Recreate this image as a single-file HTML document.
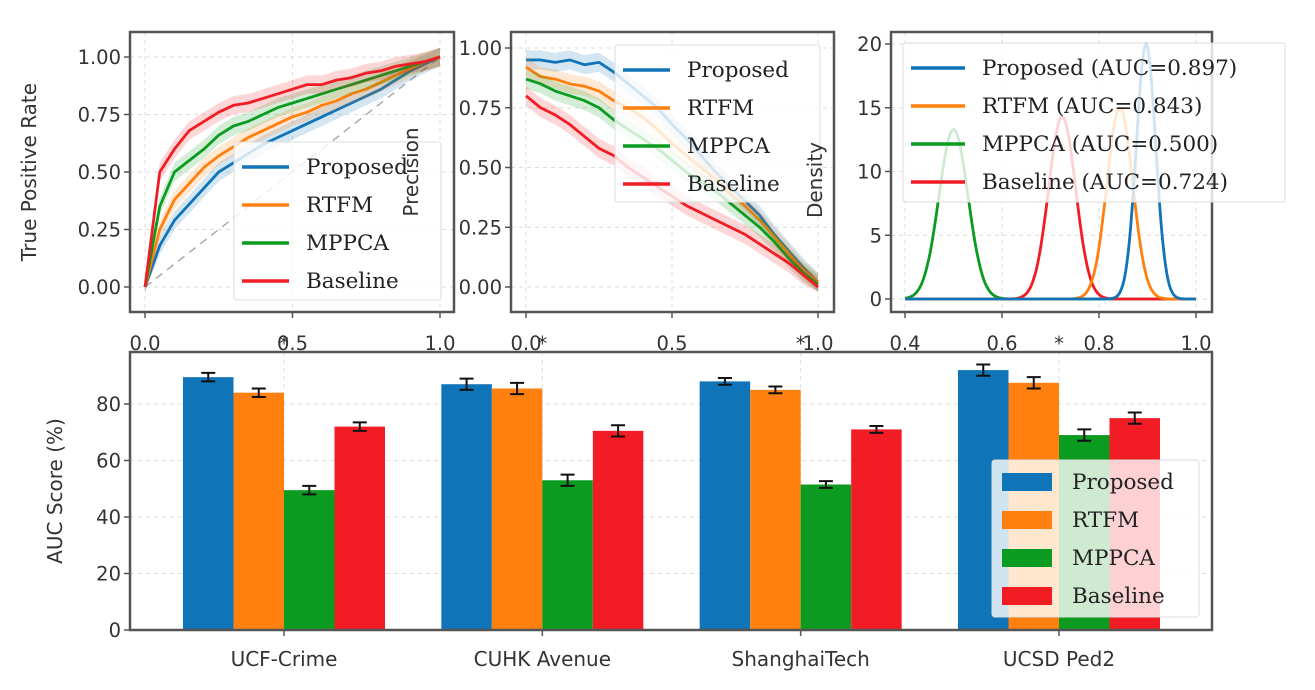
<!DOCTYPE html>
<html><head><meta charset="utf-8"><style>
html,body{margin:0;padding:0;background:#fff;width:1315px;height:690px;overflow:hidden}
svg{display:block}
.tick{font-family:"DejaVu Sans","Liberation Sans",sans-serif;font-size:19.5px;fill:#333}
.lab{font-family:"DejaVu Sans","Liberation Sans",sans-serif;font-size:20px;fill:#333}
.leg{font-family:"DejaVu Serif","Liberation Serif",serif;font-size:21.5px;fill:#222}
</style></head><body>
<svg id="fig" width="1315" height="690" xmlns="http://www.w3.org/2000/svg"></svg>
<script>
const seriesNames = ["Proposed","RTFM","MPPCA","Baseline"];
const colors = ["#0f74b8","#ff800e","#0a9b20","#f21d24"];
// ROC
const rocX = [0,0.05,0.1,0.15,0.2,0.25,0.3,0.35,0.4,0.45,0.5,0.55,0.6,0.65,0.7,0.75,0.8,0.85,0.9,0.95,1.0];
const rocProposed = [0,0.18,0.29,0.36,0.43,0.50,0.54,0.58,0.62,0.65,0.68,0.71,0.74,0.77,0.80,0.83,0.86,0.90,0.94,0.97,1.0];
const rocRTFM = [0,0.25,0.38,0.45,0.52,0.57,0.61,0.65,0.68,0.71,0.74,0.76,0.79,0.81,0.84,0.86,0.89,0.92,0.95,0.98,1.0];
const rocMPPCA = [0,0.35,0.50,0.55,0.60,0.66,0.70,0.72,0.75,0.78,0.80,0.82,0.84,0.86,0.88,0.90,0.92,0.94,0.96,0.98,1.0];
const rocBaseline = [0,0.50,0.60,0.68,0.72,0.76,0.79,0.80,0.82,0.84,0.86,0.88,0.88,0.90,0.91,0.93,0.94,0.96,0.97,0.98,1.0];
// PR
const prX = rocX;
const prProposed = [0.95,0.95,0.94,0.95,0.93,0.94,0.90,0.85,0.80,0.75,0.68,0.62,0.55,0.48,0.42,0.36,0.30,0.22,0.15,0.08,0.02];
const prRTFM = [0.92,0.88,0.87,0.85,0.84,0.82,0.78,0.75,0.71,0.66,0.60,0.55,0.50,0.45,0.39,0.34,0.28,0.21,0.14,0.07,0.02];
const prMPPCA = [0.87,0.85,0.82,0.80,0.78,0.75,0.70,0.66,0.62,0.58,0.53,0.48,0.44,0.40,0.35,0.30,0.25,0.19,0.12,0.06,0.01];
const prBaseline = [0.80,0.75,0.72,0.68,0.63,0.58,0.55,0.50,0.46,0.42,0.38,0.34,0.31,0.28,0.25,0.22,0.18,0.14,0.10,0.05,0.0];
// Density
const densMeans = [0.897,0.843,0.500,0.724];
const densPeaks = [20,15,13.3,14.3];
const densLabels = ["Proposed (AUC=0.897)","RTFM (AUC=0.843)","MPPCA (AUC=0.500)","Baseline (AUC=0.724)"];
// Bars
const datasets = ["UCF-Crime","CUHK Avenue","ShanghaiTech","UCSD Ped2"];
const barProposed = [89.5,87,88,92];
const barRTFM = [84,85.5,85,87.5];
const barMPPCA = [49.5,53,51.5,69];
const barBaseline = [72,70.5,71,75];
const barErr = [1.5,2,1.2,2];

const NS="http://www.w3.org/2000/svg";
const svg=document.getElementById('fig');
function el(tag,attrs,parent,text){const e=document.createElementNS(NS,tag);for(const k in attrs)e.setAttribute(k,attrs[k]);if(text!==undefined)e.textContent=text;(parent||svg).appendChild(e);return e;}
function lin(d0,d1,r0,r1){return v=>r0+(v-d0)/(d1-d0)*(r1-r0);}

function frame(g,x0,y0,x1,y1){const r=el('rect',{x:x0,y:y0,width:x1-x0,height:y1-y0,fill:'none',stroke:'#555','stroke-width':2.5},g);}
function grid(g,x0,y0,x1,y1,vert){const l=el('line',vert?{x1:x0,x2:x0,y1:y0,y2:y1}:{x1:x0,x2:x1,y1:y0,y2:y0},g);l.setAttribute('stroke','#ddd');l.setAttribute('stroke-dasharray','4,4');l.setAttribute('stroke-width',1);}

function linePanel(name,box,xs,ys,ySeries,xTicks,yTicks,yFmt,ylabel,ylabX,legBox,legLabels){
  const g=el('g',{});
  const X=lin(xs[0],xs[1],box.xa,box.xb), Y=lin(ys[0],ys[1],box.ya,box.yb);
  xTicks.forEach(t=>grid(g,X(t),box.top,0,box.bottom,true));
  yTicks.forEach(t=>grid(g,box.left,Y(t),box.right,0,false));
  if(name==='roc-panel'){const d=el('line',{x1:X(0),y1:Y(0),x2:X(1),y2:Y(1),stroke:'#aaa','stroke-dasharray':'8,6','stroke-width':1.5},g);}
  ySeries.forEach((s,i)=>{
    const xv=s.x;
    let up='',dn='';
    xv.forEach((x,j)=>{up+=(j?'L':'M')+X(x)+','+Y(Math.min(s.y[j]+0.04,1.05));});
    for(let j=xv.length-1;j>=0;j--)dn+='L'+X(xv[j])+','+Y(Math.max(s.y[j]-0.04,-0.02));
    el('path',{d:up+dn+'Z',fill:colors[i],opacity:0.18},g);
    const p=el('path',{d:xv.map((x,j)=>(j?'L':'M')+X(x)+','+Y(s.y[j])).join(''),fill:'none',stroke:colors[i],'stroke-width':2.8,'stroke-linejoin':'round'},g);
    
    
  });
  frame(g,box.left,box.top,box.right,box.bottom);
  yTicks.forEach(t=>{el('line',{x1:box.left-6,x2:box.left,y1:Y(t),y2:Y(t),stroke:'#555','stroke-width':1.5},g);const tx=el('text',{x:box.left-9,y:Y(t)+7,'text-anchor':'end',class:'tick'},g,yFmt(t));});
  xTicks.forEach(t=>{el('line',{x1:X(t),x2:X(t),y1:box.bottom,y2:box.bottom+6,stroke:'#555','stroke-width':1.5},g);const tx=el('text',{x:X(t),y:350,'text-anchor':'middle',class:'tick'},g,t.toFixed(1));});
  const yl=el('text',{x:ylabX,y:(box.top+box.bottom)/2,'text-anchor':'middle',class:'lab',transform:`rotate(-90 ${ylabX} ${(box.top+box.bottom)/2})`},g,ylabel);
  
  const lg=el('g',{},g);
  el('rect',{x:legBox.x,y:legBox.y,width:legBox.w,height:legBox.h,fill:'#fff','fill-opacity':0.8,stroke:'#ddd',rx:3},lg);
  legLabels.forEach((l,i)=>{const yy=legBox.y+25+i*38;
    const e=el('g',{},lg);
    el('line',{x1:legBox.x+8,x2:legBox.x+55,y1:yy,y2:yy,stroke:colors[i],'stroke-width':3.5},e);
    el('text',{x:legBox.x+72,y:yy+7,class:'leg'},e,l);});
  return g;
}
const f2=t=>t.toFixed(2);
linePanel('roc-panel',{left:130,right:454,top:32,bottom:312,xa:145,xb:440,ya:287,yb:57},[0,1],[0,1],
  [rocProposed,rocRTFM,rocMPPCA,rocBaseline].map(y=>({x:rocX,y})),[0,0.5,1],[0,0.25,0.5,0.75,1],f2,'True Positive Rate',36,
  {x:234,y:142,w:207,h:158},seriesNames);
linePanel('pr-panel',{left:511,right:834,top:32,bottom:312,xa:526,xb:818,ya:287,yb:48},[0,1],[0,1],
  [prProposed,prRTFM,prMPPCA,prBaseline].map(y=>({x:prX,y})),[0,0.5,1],[0,0.25,0.5,0.75,1],f2,'Precision',418,
  {x:615,y:45,w:205,h:157},seriesNames);
// density
(function(){
  const g=el('g',{});
  const box={left:891,right:1212,top:32,bottom:312};
  const X=lin(0.4,1.0,905,1196),Y=lin(0,20,299,44);
  [0.4,0.6,0.8,1.0].forEach(t=>grid(g,X(t),box.top,0,box.bottom,true));
  [0,5,10,15,20].forEach(t=>grid(g,box.left,Y(t),box.right,0,false));
  const order=[2,3,1,0];
  order.forEach(i=>{let d='';for(let k=0;k<=240;k++){const x=0.4+k*0.0025;const sd=1/(densPeaks[i]*Math.sqrt(2*Math.PI));const v=densPeaks[i]*Math.exp(-0.5*((x-densMeans[i])/sd)**2);d+=(k?'L':'M')+X(x).toFixed(1)+','+Y(v).toFixed(1);}
    const p=el('path',{d,fill:'none',stroke:colors[i],'stroke-width':2.8},g);
    });
  frame(g,box.left,box.top,box.right,box.bottom);
  [0,5,10,15,20].forEach(t=>{el('line',{x1:box.left-6,x2:box.left,y1:Y(t),y2:Y(t),stroke:'#555','stroke-width':1.5},g);el('text',{x:box.left-9,y:Y(t)+7,'text-anchor':'end',class:'tick'},g,String(t));});
  [0.4,0.6,0.8,1.0].forEach(t=>{el('line',{x1:X(t),x2:X(t),y1:box.bottom,y2:box.bottom+6,stroke:'#555','stroke-width':1.5},g);el('text',{x:X(t),y:350,'text-anchor':'middle',class:'tick'},g,t.toFixed(1));});
  const yl=el('text',{x:822,y:180,'text-anchor':'middle',class:'lab',transform:'rotate(-90 822 180)'},g,'Density');
  
  const lg=el('g',{},g);
  el('rect',{x:903,y:43,width:382,height:159,fill:'#fff','fill-opacity':0.8,stroke:'#ddd',rx:3},lg);
  densLabels.forEach((l,i)=>{const yy=68+i*38;const e=el('g',{},lg);
    el('line',{x1:911,x2:965,y1:yy,y2:yy,stroke:colors[i],'stroke-width':3.5},e);
    el('text',{x:982,y:yy+7,class:'leg'},e,l);});
})();
// bars
(function(){
  const g=el('g',{});
  const box={left:130,right:1212,top:352,bottom:630};
  const Y=lin(0,80,630,404);
  const centers=lin(0,3,284,1059);
  const bw=50.5;
  [0,20,40,60,80].forEach(t=>grid(g,box.left,Y(t),box.right,0,false));
  datasets.forEach((d,k)=>grid(g,centers(k),box.top,0,box.bottom,true));
  const all=[barProposed,barRTFM,barMPPCA,barBaseline];
  all.forEach((vals,i)=>vals.forEach((v,k)=>{
    const x=centers(k)+(i-2)*bw;
    const r=el('rect',{x:x,y:Y(v),width:bw,height:Y(0)-Y(v),fill:colors[i]},g);
    
    
    const cx=x+bw/2,e=barErr[k];
    el('path',{d:`M${cx},${Y(v+e)}V${Y(v-e)}M${cx-7},${Y(v+e)}H${cx+7}M${cx-7},${Y(v-e)}H${cx+7}`,stroke:'#111','stroke-width':2,fill:'none'},g);
  }));
  frame(g,box.left,box.top,box.right,box.bottom);
  [0,20,40,60,80].forEach(t=>{el('line',{x1:box.left-6,x2:box.left,y1:Y(t),y2:Y(t),stroke:'#555','stroke-width':1.5},g);el('text',{x:box.left-9,y:Y(t)+7,'text-anchor':'end',class:'tick'},g,String(t));});
  datasets.forEach((d,k)=>{el('line',{x1:centers(k),x2:centers(k),y1:box.bottom,y2:box.bottom+6,stroke:'#555','stroke-width':1.5},g);const t=el('text',{x:centers(k),y:666,'text-anchor':'middle',class:'lab'},g,d);
    el('text',{x:centers(k),y:350,'text-anchor':'middle',class:'tick'},g,'*');});
  const yl=el('text',{x:62,y:491,'text-anchor':'middle',class:'lab',transform:'rotate(-90 62 491)'},g,'AUC Score (%)');
  
  const lg=el('g',{},g);
  el('rect',{x:992,y:460,width:207,height:157,fill:'#fff','fill-opacity':0.8,stroke:'#ddd',rx:3},lg);
  seriesNames.forEach((n,i)=>{const yy=482+i*38;const e=el('g',{},lg);
    el('rect',{x:1002,y:yy-9,width:50,height:18,fill:colors[i]},e);
    el('text',{x:1072,y:yy+7,class:'leg'},e,n);});
})();
</script>
</body></html>
